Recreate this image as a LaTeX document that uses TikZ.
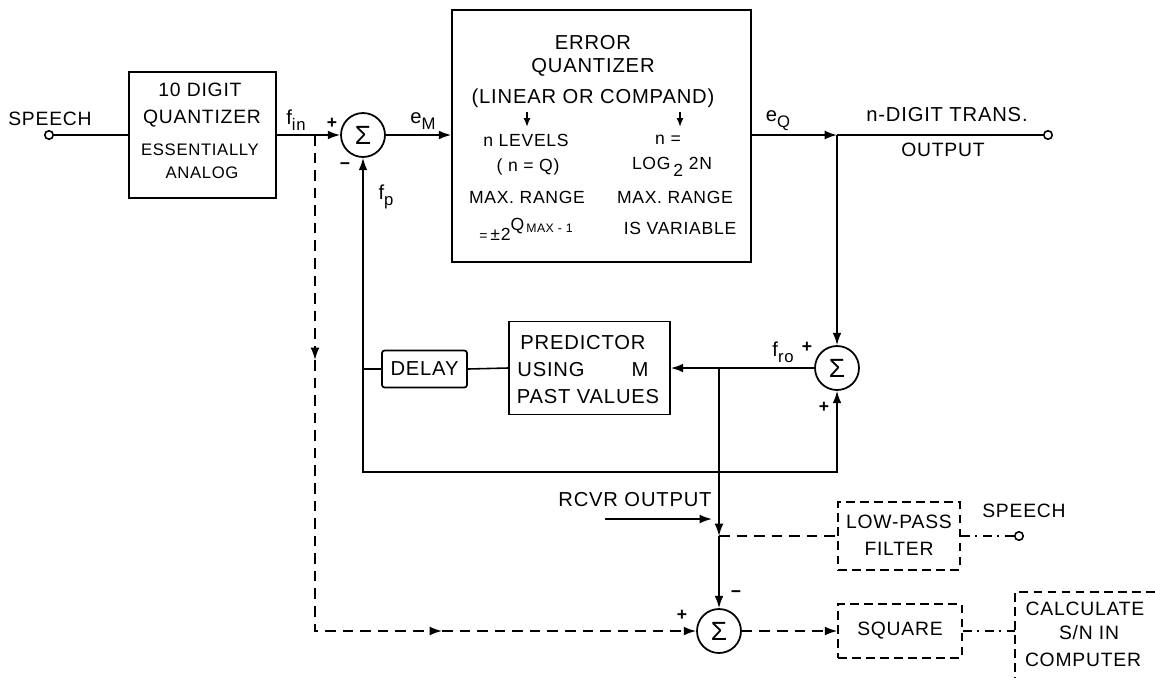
\documentclass[tikz,border=0pt]{standalone}
\usepackage{fontspec}
\setmainfont{Liberation Sans}[LetterSpace=4]
\usetikzlibrary{arrows.meta}
\newcommand{\lbl}[2]{#1\raisebox{-0.55ex}{\fontsize{9.5}{10}\selectfont #2}}
\begin{document}
\begin{tikzpicture}[x=0.02cm,y=-0.02cm,
  ln/.style={line width=0.9pt},
  tip/.style={-{Latex[length=7pt,width=5pt]}},
  arr/.style={ln,tip},
  box/.style={draw,line width=1pt,inner sep=0pt},
  dbox/.style={draw,line width=0.9pt,dash pattern=on 5pt off 3pt,inner sep=0pt},
  sumnode/.style={draw,circle,line width=1pt,minimum size=0.88cm,inner sep=0pt,font=\fontsize{15}{15}\selectfont},
  term/.style={draw,circle,line width=0.9pt,minimum size=0.17cm,inner sep=0pt,fill=white},
  txt/.style={inner sep=0pt,font=\fontsize{11}{13}\selectfont},
  btxt/.style={inner sep=0pt,font=\fontsize{11.5}{14}\selectfont},
  stxt/.style={inner sep=0pt,font=\fontsize{10}{12}\selectfont},
  sign/.style={inner sep=0pt,font=\fontsize{10}{10}\selectfont\bfseries},
  dsh/.style={ln,dash pattern=on 6pt off 4pt},
  ddot/.style={ln,dash pattern=on 5pt off 3pt on 1.5pt off 3pt},
]
\useasboundingbox (0,0) rectangle (1155,677);

% ---------- input and 10 digit quantizer ----------
\node[term] (spin) at (49,135) {};
\node[txt] (tspeech) at (50,119) {SPEECH};
\node[box,minimum width=2.94cm,minimum height=2.52cm] (q10) at (202.5,135) {};
\node[txt] (q10a) at (200,90) {10 DIGIT};
\node[txt] (q10b) at (202,119) {QUANTIZER};
\node[stxt,font=\fontsize{9.5}{12}\selectfont] (q10c) at (200,150) {ESSENTIALLY};
\node[stxt,font=\fontsize{9.5}{12}\selectfont] (q10d) at (202,173) {ANALOG};
\draw[ln] (spin.east) -- (q10.west);

% ---------- first summer ----------
\node[sumnode] (s1) at (363,135) {Σ};
\coordinate (bin) at (315,135);
\draw[arr] (q10.east) -- (s1.west);
\node[btxt] (lfin) at (296,120) {\lbl{f}{in}};
\node[sign] (s1p) at (332,123) {+};
\node[sign] (s1m) at (345,166) {−};
\node[btxt] (lfp) at (386,197) {\lbl{f}{p}};

% ---------- error quantizer ----------
\node[box,minimum width=5.98cm,minimum height=5.04cm] (eq) at (601.5,136) {};
\draw[arr] (s1.east) -- (s1.east -| eq.west);
\node[btxt] (leM) at (423,121) {\lbl{e}{M}};
\node[btxt] (eqa) at (593,43) {ERROR};
\node[btxt] (eqb) at (593,67) {QUANTIZER};
\node[btxt] (eqc) at (593,98) {(LINEAR OR COMPAND)};
\coordinate (a1s) at (527,112); \coordinate (a1e) at (527,127);
\coordinate (a2s) at (680,112); \coordinate (a2e) at (680,127);
\draw[line width=1.3pt,-{Latex[length=5pt,width=4pt]}] (a1s) -- (a1e);
\draw[line width=1.3pt,-{Latex[length=5pt,width=4pt]}] (a2s) -- (a2e);
\node[stxt] (eqd) at (526,140) {n LEVELS};
\node[stxt] (eqe) at (668,140) {n =};
\node[stxt] (eqf) at (528,167) {( n = Q)};
\node[stxt] (eqg) at (672,167) {LOG\,\raisebox{-0.8ex}{2} 2N};
\node[stxt] (eqh) at (527,197) {MAX. RANGE};
\node[stxt] (eqi) at (675,197) {MAX. RANGE};
\node[stxt] (eqj) at (526,229) {{\fontsize{8}{8}\selectfont =}\,±2\raisebox{1.1ex}{\fontsize{10}{10}\selectfont Q\raisebox{-0.3ex}{\fontsize{7}{8}\selectfont\,MAX - 1}}};
\node[stxt] (eqk) at (680,228) {IS VARIABLE};

% ---------- transmitter output ----------
\coordinate (jq) at (837,135);
\node[term] (outT) at (1048,135) {};
\draw[arr] (eq.east |- jq) -- (jq);
\draw[ln] (jq) -- (outT.west);
\node[btxt] (leQ) at (778,121) {\lbl{e}{Q}};
\node[btxt] (ota) at (947,115) {n-DIGIT TRANS.};
\node[txt] (otb) at (943,150) {OUTPUT};

% ---------- second summer, predictor, delay ----------
\node[sumnode] (s2) at (837,368) {Σ};
\draw[arr] (jq) -- (s2.north);
\node[btxt] (lfro) at (783,352) {\lbl{f}{ro}};
\node[sign] (s2p) at (807,347) {+};
\node[sign] (s2q) at (824,407) {+};
\node[box,minimum width=3.22cm,minimum height=1.86cm] (pred) at (589.5,368) {};
\node[btxt] (pra) at (583,343) {PREDICTOR};
\node[btxt] (prb) at (551,370) {USING};
\node[btxt] (prc) at (640,370) {M};
\node[btxt] (prd) at (588,397) {PAST VALUES};
\draw[arr] (s2.west) -- (pred.east);
\coordinate (bp) at (719,368);
\node[box,rounded corners=1.5pt,minimum width=1.70cm,minimum height=0.74cm,font=\fontsize{11.5}{14}\selectfont] (delay) at (424.5,369) {DELAY};
\draw[ln] (pred.west) -- (delay.east);

% ---------- feedback loop ----------
\coordinate (fbL) at (363,472);
\coordinate (fbR) at (837,472);
\draw[ln,{Latex[length=7pt,width=5pt]}-{Latex[length=7pt,width=5pt]}] (s2.south) -- (fbR) -- (fbL) -- (s1.south);
\draw[ln] (delay.west) -- (delay.west -| fbL);

% ---------- receiver side ----------
\coordinate (jr) at (719,536);
\draw[arr] (bp) -- (jr);
\node[sumnode] (s3) at (719,631) {Σ};
\draw[arr] (jr) -- (s3.north);
\node[sign] (s3m) at (736,594) {−};
\node[sign] (s3p) at (682,615) {+};
\coordinate (rA) at (605,519);
\coordinate (rB) at (712,519);
\draw[arr] (rA) -- (rB);
\node[btxt] (trcvr) at (635,500) {RCVR OUTPUT};

\node[dbox,minimum width=2.44cm,minimum height=1.36cm] (lpf) at (899,536) {};
\node[txt] (lpa) at (899,522) {LOW-PASS};
\node[txt] (lpb) at (899,549) {FILTER};
\draw[dsh] (jr) -- (lpf.west);
\node[term] (spout) at (1019,536) {};
\draw[ddot] (lpf.east) -- (spout.west);
\node[txt] (tspeech2) at (1024,511) {SPEECH};

% ---------- comparison path ----------
\coordinate (dA) at (315,360);
\coordinate (dC) at (315,631);
\coordinate (dB) at (442,631);
\draw[dsh,tip] (bin) -- (dA);
\draw[dsh,tip] (dA) -- (dC) -- (dB);
\draw[dsh,tip] (dB) -- (s3.west);

\node[dbox,minimum width=2.48cm,minimum height=1.08cm,font=\fontsize{11}{13}\selectfont] (sq) at (900,631) {SQUARE};
\draw[dsh,tip] (s3.east) -- (sq.west);
\coordinate (calcin) at (1015,631);
\draw[ddot] (sq.east) -- (calcin);
\coordinate (cBL) at (1015,700);
\coordinate (cTL) at (1015,592);
\coordinate (cTR) at (1180,592);
\begin{scope}
\clip (0,0) rectangle (1155,677);
\draw[ln,dash pattern=on 5pt off 3pt] (cBL) -- (cTL) -- (cTR);
\end{scope}
\node[txt] (ca) at (1085,609) {CALCULATE};
\node[txt] (cb) at (1089,633) {S/N IN};
\node[txt] (cc) at (1083,660) {COMPUTER};
\end{tikzpicture}
\end{document}
